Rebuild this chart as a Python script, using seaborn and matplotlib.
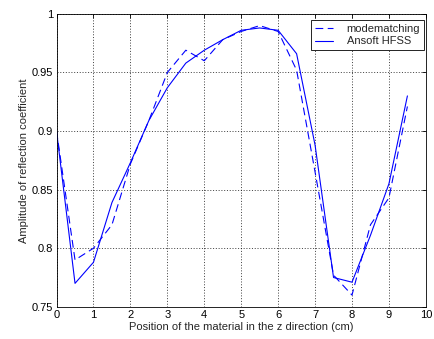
import matplotlib
matplotlib.use("Agg")
import matplotlib.pyplot as plt
import seaborn as sns
import pandas as pd

positions = [0, 0.5, 1, 1.5, 2, 2.5, 3, 3.5, 4, 4.5, 5, 5.5, 6, 6.5, 7, 7.5, 8, 8.5, 9, 9.5]
modematching = [0.900, 0.790, 0.800, 0.820, 0.872, 0.909, 0.950, 0.969, 0.960, 0.978,
                0.985, 0.990, 0.985, 0.952, 0.865, 0.777, 0.760, 0.820, 0.843, 0.921]
hfss = [0.900, 0.770, 0.788, 0.839, 0.873, 0.909, 0.937, 0.958, 0.969, 0.978,
        0.986, 0.988, 0.986, 0.966, 0.888, 0.775, 0.771, 0.811, 0.855, 0.930]
series_names = ["modematching", "Ansoft HFSS"]
xticks = [0, 1, 2, 3, 4, 5, 6, 7, 8, 9, 10]
yticks = [0.75, 0.8, 0.85, 0.9, 0.95, 1.0]
ytick_labels = ["0.75", "0.8", "0.85", "0.9", "0.95", "1"]

df = pd.DataFrame({
    "x": positions * 2,
    "y": modematching + hfss,
    "series": [series_names[0]] * len(positions) + [series_names[1]] * len(positions),
})

sns.set_style("white")
plt.rcParams["font.family"] = ["Liberation Sans", "DejaVu Sans"]

fig = plt.figure(figsize=(4.35, 3.39), dpi=100)
ax = fig.add_axes([0.130, 0.095, 0.849, 0.864])

sns.lineplot(data=df, x="x", y="y", hue="series", style="series",
             palette={series_names[0]: "#0000ff", series_names[1]: "#0000ff"},
             dashes={series_names[0]: (7, 4), series_names[1]: ""},
             linewidth=0.8, ax=ax, legend=True)

ax.set_xlim(0, 10)
ax.set_ylim(0.75, 1.0)
ax.set_xticks(xticks)
ax.set_yticks(yticks)
ax.set_yticklabels(ytick_labels)
ax.tick_params(direction="in", length=3, width=0.6, labelsize=8, top=True, right=True,
               colors="black", pad=2.5)
for s in ax.spines.values():
    s.set_color("black")
    s.set_linewidth(0.6)
ax.grid(True, color="black", linestyle=(0, (1.5, 2.5)), linewidth=0.5)
ax.set_xlabel("Position of the material in the z direction (cm)", fontsize=8, labelpad=1.5)
ax.set_ylabel("Amplitude of reflection coefficient", fontsize=8, labelpad=2)

leg = ax.legend(loc="upper right", bbox_to_anchor=(0.9954, 0.978), fontsize=8,
                frameon=True, fancybox=False, edgecolor="black", framealpha=1,
                handlelength=1.7, handletextpad=1.2, borderpad=0.35,
                labelspacing=0.2, borderaxespad=0)
leg.get_frame().set_linewidth(0.6)

fig.savefig("out.png", dpi=100, facecolor="white")
